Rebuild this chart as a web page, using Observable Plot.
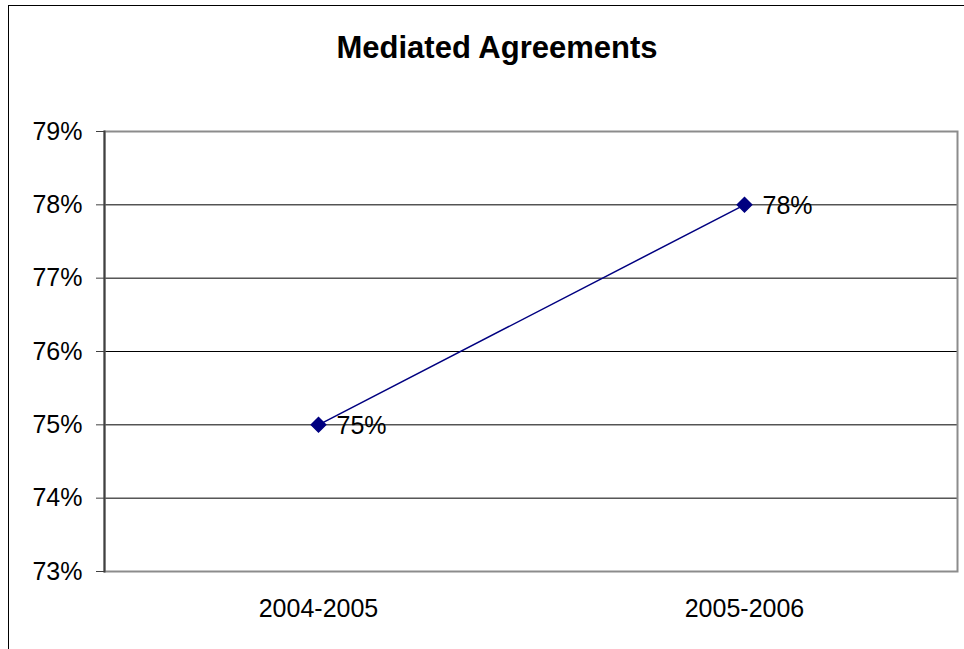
<!DOCTYPE html>
<html>
<head>
<meta charset="utf-8">
<script src="https://cdn.jsdelivr.net/npm/d3@7"></script>
<script src="https://cdn.jsdelivr.net/npm/@observablehq/plot@0.6"></script>
<style>
  html, body { margin: 0; padding: 0; background: #fff; overflow: hidden; }
  #wrap { position: relative; width: 964px; height: 649px; overflow: hidden; font-family: "Liberation Sans", Arial, sans-serif; }
  #border { position: absolute; left: 8px; top: 5px; width: 2000px; height: 2000px; border-left: 1.5px solid #000; border-top: 1.5px solid #000; pointer-events: none; }
  #title { height: 100px; box-sizing: border-box; padding-top: 32px; text-align: center; font-weight: bold; font-size: 31px; line-height: 32px; color: #000; padding-left: 30px; }
  svg { display: block; }
</style>
</head>
<body>
<div id="wrap">
  <div id="title">Mediated Agreements</div>
  <div id="chart"></div>
  <div id="border"></div>
</div>
<script>
const categories = ["2004-2005", "2005-2006"];
const values = [75, 78];
const yTicks = [73, 74, 75, 76, 77, 78, 79];
const gridValues = [74, 75, 76, 77, 78];

const data = categories.map((c, i) => ({ period: c, value: values[i] }));

const chart = Plot.plot({
  width: 964,
  height: 549,
  marginTop: 31,
  marginBottom: 78,
  marginLeft: 104,
  marginRight: 7,
  style: { fontFamily: "Liberation Sans, Arial, sans-serif", fontSize: "25px", color: "#000", background: "#fff" },
  x: { type: "point", domain: categories, padding: 0.5, label: null },
  y: { domain: [73, 79], label: null },
  marks: [
    Plot.ruleY(gridValues, { stroke: "#000", strokeWidth: 1 }),
    Plot.frame({ stroke: "#8c8c8c", strokeWidth: 2 }),
    Plot.frame({ anchor: "left", stroke: "#404040", strokeWidth: 2 }),
    Plot.axisY({ ticks: yTicks, tickFormat: d => d + "%", tickSize: 8, tickPadding: 14, stroke: "#404040", label: null, fontSize: 25 }),
    Plot.axisX({ tickSize: 0, tickPadding: 28, label: null, fontSize: 25 }),
    Plot.line(data, { x: "period", y: "value", stroke: "#000080", strokeWidth: 1.5 }),
    Plot.dot(data, { x: "period", y: "value", symbol: "diamond2", r: 6.5, fill: "#000080", stroke: "#000080" }),
    Plot.text(data, { x: "period", y: "value", text: d => d.value + "%", textAnchor: "start", dx: 18, dy: 1, fontSize: 25, fill: "#000" })
  ]
});
document.getElementById("chart").appendChild(chart);
</script>
</body>
</html>
